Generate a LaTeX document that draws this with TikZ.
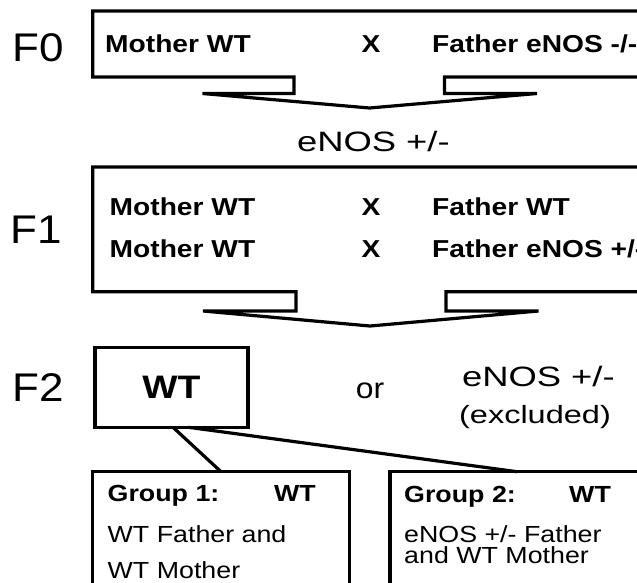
\documentclass[tikz,border=0pt]{standalone}
\usepackage{fontspec}
\setmainfont{Liberation Sans}
\newfontfamily\gensf[FakeStretch=1.1]{Liberation Sans}
\newfontfamily\rowsf[FakeStretch=1.15]{Liberation Sans}
\newfontfamily\enossf[FakeStretch=1.3]{Liberation Sans}

\begin{document}
\begin{tikzpicture}[x=1pt,y=-1pt]
\tikzstyle{outline}=[line width=3.2pt,line join=miter]
\tikzstyle{box}=[draw,outline,rectangle,outer sep=0pt]
\tikzstyle{gen}=[inner sep=0pt,anchor=base,font=\gensf\fontsize{40}{48}\selectfont]
\tikzstyle{crossrow}=[inner sep=0pt,anchor=base west,font=\rowsf\bfseries\fontsize{24.5}{29}\selectfont]
\tikzstyle{geno}=[inner sep=0pt,anchor=base,font=\enossf\fontsize{28}{34}\selectfont]
\tikzstyle{grp}=[inner sep=0pt,anchor=base west,font=\rowsf\fontsize{23.3}{28}\selectfont]
\tikzstyle{grphead}=[grp,font=\rowsf\bfseries\fontsize{23.3}{28}\selectfont]
\useasboundingbox (0,0) rectangle (637,582);
\clip (0,0) rectangle (637,582);
\draw[outline] (660,11) -- (92.7,11) -- (92.7,77) -- (294,77) -- (294,93.5) -- (202.5,93.5)
  -- (369.5,108) -- (537,93.5) -- (444.5,93.5) -- (444.5,77) -- (660,77);
\draw[outline] (660,167) -- (92.7,167) -- (92.7,291.7) -- (296,291.7) -- (296,311) -- (203,311)
  -- (370,326) -- (538.6,311) -- (446,311) -- (446,291.7) -- (660,291.7);
\node[gen] (f0) at (38,61.7) {F0};
\node[gen] (f1) at (36,243.3) {F1};
\node[gen] (f2) at (38.5,401.7) {F2};
\node[crossrow] (m0) at (105,52.7) {Mother WT};
\node[crossrow,anchor=base] (x0) at (371,52.7) {X};
\node[crossrow] (fa0) at (432,52.7) {Father eNOS -/-};
\node[geno] (het) at (373.4,151.7) {eNOS +/-};
\node[crossrow] (m1) at (109.5,215) {Mother WT};
\node[crossrow,anchor=base] (x1) at (371,215) {X};
\node[crossrow] (fa1) at (432,215) {Father WT};
\node[crossrow] (m2) at (109.5,257.7) {Mother WT};
\node[crossrow,anchor=base] (x2) at (371,257.7) {X};
\node[crossrow] (fa2) at (432,257.7) {Father eNOS +/-};
\node[box,minimum width=153pt,minimum height=80pt,anchor=north west,
  font=\rowsf\bfseries\fontsize{32.5}{38}\selectfont] (wt) at (95,347.3) {WT};
\node[gen,font=\gensf\fontsize{29}{34}\selectfont] (or) at (370,398.3) {or};
\node[geno] (het2) at (538.4,386.7) {eNOS +/-};
\node[geno,font=\enossf\fontsize{25}{30}\selectfont] (excl) at (535,423.3) {(excluded)};
\node[box,minimum width=256.6pt,minimum height=160pt,anchor=north west] (g1) at (92.7,471.7) {};
\node[box,minimum width=254pt,minimum height=160pt,anchor=north west] (g2) at (390,471.7) {};
\draw[outline] ([xshift=1.5pt]wt.south) -- (g1.north);
\draw[outline] ([xshift=17pt]wt.south) -- (g2.north);
\node[grphead] (g1h) at (107.5,501.7) {Group 1:};
\node[grphead] (g1w) at (274,501.7) {WT};
\node[grp] (g1a) at (107.5,542.7) {WT Father and};
\node[grp] (g1b) at (107.5,578.3) {WT Mother};
\node[grphead] (g2h) at (404,502.2) {Group 2:};
\node[grphead] (g2w) at (569,502.2) {WT};
\node[grp,anchor=south west,align=left,font=\rowsf\fontsize{23.3}{20.6}\selectfont] (g2a)
  at (404,563.6) {eNOS +/- Father\\and WT Mother};
\end{tikzpicture}
\end{document}
